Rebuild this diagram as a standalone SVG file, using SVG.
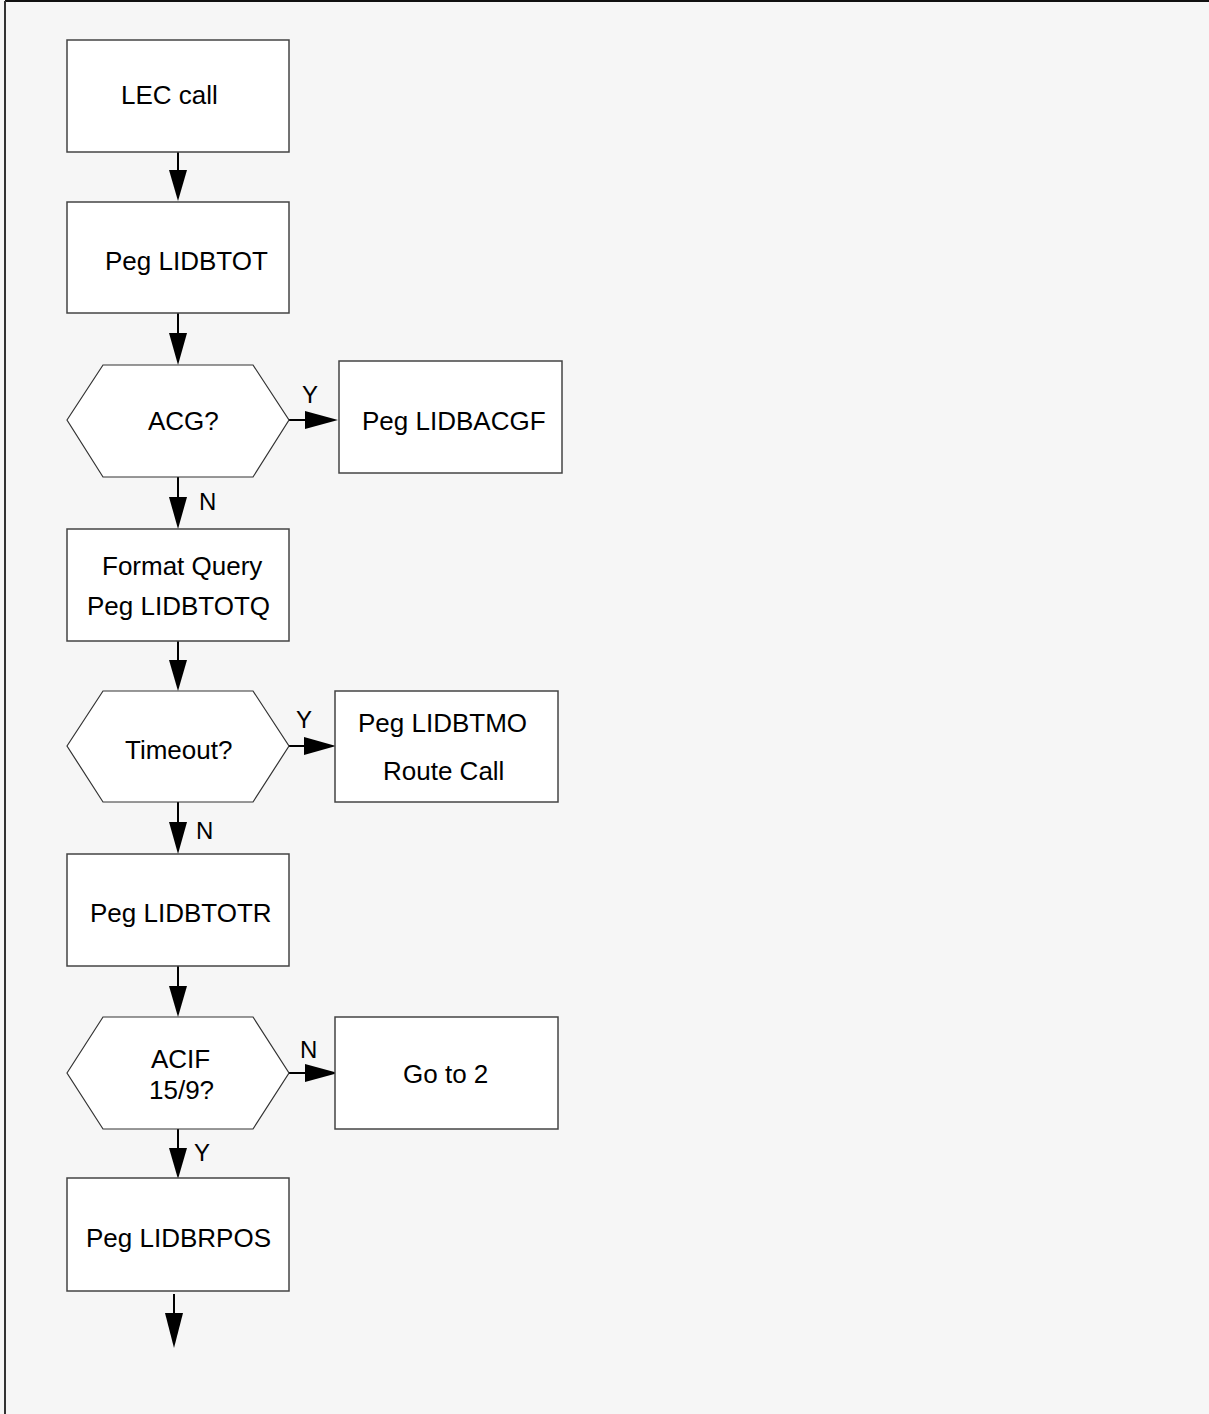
<svg xmlns="http://www.w3.org/2000/svg" width="1209" height="1414" viewBox="0 0 1209 1414">
<defs>
<style>
.box{fill:#ffffff;stroke:#444444;stroke-width:1.5}
.hex{fill:#ffffff;stroke:#333333;stroke-width:1.2}
.t{font-family:"Liberation Sans",Arial,sans-serif;font-size:26px;fill:#000000}
.l{font-family:"Liberation Sans",Arial,sans-serif;font-size:24px;fill:#000000}
.c{stroke:#000000;stroke-width:2;fill:none}
.h{fill:#000000;stroke:none}
</style>
</defs>
<rect x="0" y="0" width="1209" height="1414" fill="#f6f6f6"/>
<line x1="5" y1="1" x2="1209" y2="1" stroke="#111111" stroke-width="2"/>
<line x1="5" y1="1" x2="5" y2="1414" stroke="#333333" stroke-width="2"/>

<g id="connectors">
<line class="c" x1="178" y1="152" x2="178" y2="172"/><polygon class="h" points="169,170 187,170 178,201"/>
<line class="c" x1="178" y1="313" x2="178" y2="335"/><polygon class="h" points="169,333 187,333 178,365"/>
<line class="c" x1="289" y1="420" x2="307" y2="420"/><polygon class="h" points="305,411 305,429 338,420"/>
<line class="c" x1="178" y1="477" x2="178" y2="499"/><polygon class="h" points="169,497 187,497 178,529"/>
<line class="c" x1="178" y1="641" x2="178" y2="662"/><polygon class="h" points="169,660 187,660 178,691"/>
<line class="c" x1="289" y1="746" x2="306" y2="746"/><polygon class="h" points="304,737 304,755 336,746"/>
<line class="c" x1="178" y1="802" x2="178" y2="824"/><polygon class="h" points="169,822 187,822 178,854"/>
<line class="c" x1="178" y1="966" x2="178" y2="988"/><polygon class="h" points="169,986 187,986 178,1017"/>
<line class="c" x1="289" y1="1073" x2="307" y2="1073"/><polygon class="h" points="305,1064 305,1082 338,1073"/>
<line class="c" x1="178" y1="1129" x2="178" y2="1150"/><polygon class="h" points="169,1148 187,1148 178,1179"/>
<line class="c" x1="174" y1="1294" x2="174" y2="1315"/><polygon class="h" points="165,1313 183,1313 174,1348"/>
<text class="l" x="302" y="403">Y</text>
<text class="l" x="199" y="510">N</text>
<text class="l" x="296" y="728">Y</text>
<text class="l" x="196" y="839">N</text>
<text class="l" x="300" y="1058">N</text>
<text class="l" x="194" y="1161">Y</text>
</g>

<g id="lec-call"><rect class="box" x="67" y="40" width="222" height="112"/><text class="t" x="121" y="104">LEC call</text></g>
<g id="peg-lidbtot"><rect class="box" x="67" y="202" width="222" height="111"/><text class="t" x="105" y="270">Peg LIDBTOT</text></g>
<g id="acg"><polygon class="hex" points="67,420 103,365 253,365 289,420 253,477 103,477"/><text class="t" x="148" y="430">ACG?</text></g>
<g id="peg-lidbacgf"><rect class="box" x="339" y="361" width="223" height="112"/><text class="t" x="362" y="430">Peg LIDBACGF</text></g>
<g id="format-query"><rect class="box" x="67" y="529" width="222" height="112"/><text class="t" x="102" y="575">Format Query</text><text class="t" x="87" y="615">Peg LIDBTOTQ</text></g>
<g id="timeout"><polygon class="hex" points="67,746 103,691 253,691 289,746 253,802 103,802"/><text class="t" x="125" y="759">Timeout?</text></g>
<g id="peg-lidbtmo"><rect class="box" x="335" y="691" width="223" height="111"/><text class="t" x="358" y="732">Peg LIDBTMO</text><text class="t" x="383" y="780">Route Call</text></g>
<g id="peg-lidbtotr"><rect class="box" x="67" y="854" width="222" height="112"/><text class="t" x="90" y="922">Peg LIDBTOTR</text></g>
<g id="acif"><polygon class="hex" points="67,1073 103,1017 253,1017 289,1073 253,1129 103,1129"/><text class="t" x="151" y="1068">ACIF</text><text class="t" x="149" y="1099">15/9?</text></g>
<g id="go-to-2"><rect class="box" x="335" y="1017" width="223" height="112"/><text class="t" x="403" y="1083">Go to 2</text></g>
<g id="peg-lidbrpos"><rect class="box" x="67" y="1178" width="222" height="113"/><text class="t" x="86" y="1247">Peg LIDBRPOS</text></g>
</svg>
